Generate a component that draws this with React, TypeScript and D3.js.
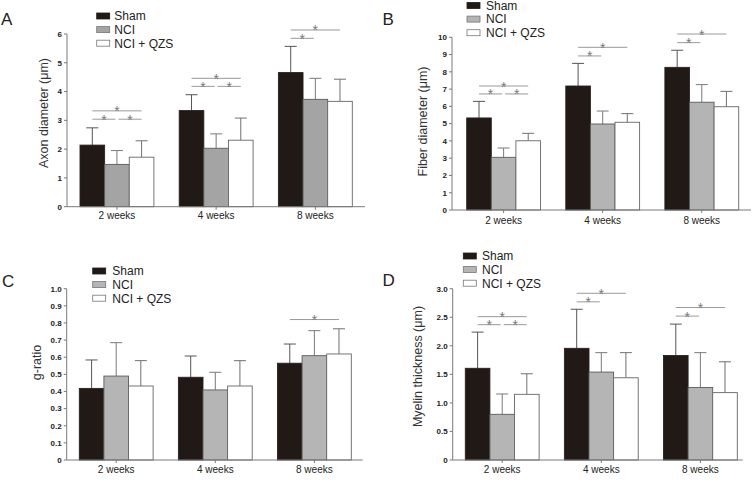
import React from "react";
import * as d3 from "d3";

const groups = ["2 weeks", "4 weeks", "8 weeks"];
const series = ["Sham", "NCI", "NCI + QZS"];

// Panel A: axon diameter
const axonSham = [2.14, 3.34, 4.66];
const axonNCI = [1.47, 2.03, 3.73];
const axonQZS = [1.72, 2.31, 3.66];
const axonShamSD = [0.6, 0.55, 0.91];
const axonNCISD = [0.48, 0.5, 0.73];
const axonQZSSD = [0.57, 0.77, 0.77];
const axonTicks = [0, 1, 2, 3, 4, 5, 6];
// [group, fromSeries, toSeries, level]
const axonSig = [
  [0, 0, 1, 3.04], [0, 1, 2, 3.04], [0, 0, 2, 3.33],
  [1, 0, 1, 4.18], [1, 1, 2, 4.18], [1, 0, 2, 4.46],
  [2, 0, 1, 5.85], [2, 0, 2, 6.14],
];

// Panel B: fiber diameter
const fiberSham = [5.33, 7.18, 8.26];
const fiberNCI = [3.05, 4.98, 6.24];
const fiberQZS = [4.01, 5.08, 5.98];
const fiberShamSD = [0.96, 1.31, 0.99];
const fiberNCISD = [0.54, 0.75, 1.02];
const fiberQZSSD = [0.43, 0.5, 0.89];
const fiberTicks = [0, 1, 2, 3, 4, 5, 6, 7, 8, 9, 10];
const fiberSig = [
  [0, 0, 1, 6.72], [0, 1, 2, 6.72], [0, 0, 2, 7.18],
  [1, 0, 1, 8.92], [1, 0, 2, 9.42],
  [2, 0, 1, 9.69], [2, 0, 2, 10.19],
];

// Panel C: g-ratio
const gSham = [0.418, 0.483, 0.565];
const gNCI = [0.49, 0.409, 0.609];
const gQZS = [0.432, 0.432, 0.619];
const gShamSD = [0.166, 0.124, 0.112];
const gNCISD = [0.195, 0.103, 0.146];
const gQZSSD = [0.148, 0.148, 0.147];
const gTicks = [0, 0.1, 0.2, 0.3, 0.4, 0.5, 0.6, 0.7, 0.8, 0.9, 1.0];
const gSig = [[2, 0, 2, 0.82]];

// Panel D: myelin thickness
const myelinSham = [1.606, 1.956, 1.83];
const myelinNCI = [0.8, 1.54, 1.27];
const myelinQZS = [1.15, 1.44, 1.18];
const myelinShamSD = [0.634, 0.684, 0.55];
const myelinNCISD = [0.356, 0.34, 0.61];
const myelinQZSSD = [0.36, 0.44, 0.54];
const myelinTicks = [0, 0.5, 1.0, 1.5, 2.0, 2.5, 3.0];
const myelinSig = [
  [0, 0, 1, 2.37], [0, 1, 2, 2.37], [0, 0, 2, 2.51],
  [1, 0, 1, 2.77], [1, 0, 2, 2.92],
  [2, 0, 1, 2.52], [2, 0, 2, 2.67],
];

const FONT = "'Liberation Sans', Arial, sans-serif";

type PanelProps = {
  ox: number; oy: number; letter: string; letterX: number; letterY: number;
  yLabel: string; yLabelX: number; yLabelY: number;
  means: number[][]; sds: number[][]; ticks: number[]; fmt: (v: number) => string;
  sig: number[][];
  axisX: number; axisEnd: number; y0: number; yTop: number; yMax: number;
  barsStart: number; barsEnd: number; catY: number;
  legX: number; legY: number; legTextX: number; ncFill: string;
};

function Panel(p: PanelProps) {
  const y = d3.scaleLinear().domain([0, p.yMax]).range([p.y0, p.yTop]);
  const xg = d3.scaleBand<string>().domain(groups).range([p.barsStart, p.barsEnd])
    .paddingInner(0.255).paddingOuter(0);
  const xs = d3.scaleBand<string>().domain(series).range([0, xg.bandwidth()]).padding(0);
  const fills = ["#211915", p.ncFill, "#ffffff"];
  const strokes = ["#2a2220", "#5a5a5a", "#666666"];
  const errCol = ["#555555", "#7a7a7a", "#707070"];
  const bw = xs.bandwidth();
  const center = (g: number, s: number) => (xg(groups[g]) as number) + (xs(series[s]) as number) + bw / 2;
  return (
    <g transform={`translate(${p.ox},${p.oy})`} fontFamily={FONT}>
      <text x={p.letterX} y={p.letterY} fontSize={17} fill="#222">{p.letter}</text>
      {/* legend */}
      {series.map((s, i) => (
        <g key={s}>
          <rect x={p.legX} y={p.legY + i * 13.6 - 3} width={13} height={6}
            fill={fills[i]} stroke={i === 0 ? "#211915" : "#777"} strokeWidth={0.8} />
          <text x={p.legTextX} y={p.legY + i * 13.6 + 4.3} fontSize={12} fill="#222">{s}</text>
        </g>
      ))}
      {/* y label */}
      <text transform={`translate(${p.yLabelX},${p.yLabelY}) rotate(-90)`} textAnchor="middle"
        dominantBaseline="central" fontSize={12.5} fill="#333">{p.yLabel}</text>
      {/* y axis */}
      <line x1={p.axisX} x2={p.axisX} y1={p.y0} y2={p.yTop} stroke="#7a7a7a" strokeWidth={1} />
      {p.ticks.map((t) => (
        <g key={t}>
          <line x1={p.axisX - 3} x2={p.axisX} y1={y(t)} y2={y(t)} stroke="#7a7a7a" strokeWidth={1} />
          <text x={p.axisX - 5} y={y(t)} dy="0.35em" textAnchor="end" fontSize={8}
            fontWeight="bold" fill="#222">{p.fmt(t)}</text>
        </g>
      ))}
      {/* bars */}
      {groups.map((g, gi) => (
        <g key={g}>
          {series.map((s, si) => {
            const v = p.means[si][gi];
            const e = v + p.sds[si][gi];
            const x0 = (xg(g) as number) + (xs(s) as number);
            const cx = x0 + bw / 2;
            return (
              <g key={s}>
                <line x1={cx} x2={cx} y1={y(v)} y2={y(e)} stroke={errCol[si]} strokeWidth={1} />
                <line x1={cx - 6} x2={cx + 6} y1={y(e)} y2={y(e)} stroke={errCol[si]} strokeWidth={1} />
                <rect x={x0} y={y(v)} width={bw} height={p.y0 - y(v)} fill={fills[si]}
                  stroke={strokes[si]} strokeWidth={0.9} />
              </g>
            );
          })}
        </g>
      ))}
      {/* x axis */}
      <line x1={p.axisX} x2={p.axisEnd} y1={p.y0} y2={p.y0} stroke="#7a7a7a" strokeWidth={1} />
      {groups.map((g) => {
        const cx = (xg(g) as number) + xg.bandwidth() / 2;
        return (
          <g key={g}>
            <line x1={cx} x2={cx} y1={p.y0} y2={p.y0 + 3} stroke="#7a7a7a" strokeWidth={1} />
            <text x={cx} y={p.catY} textAnchor="middle" fontSize={10} fill="#222">{g}</text>
          </g>
        );
      })}
      {/* significance */}
      {p.sig.map((b, i) => {
        const [gi, a, c, lvl] = b;
        let x1 = center(gi, a);
        let x2 = center(gi, c);
        if (c - a === 1) {
          if (a === 0) x2 -= 1.5;
          else x1 += 1.5;
        }
        const ly = y(lvl);
        return (
          <g key={i}>
            <line x1={x1} x2={x2} y1={ly} y2={ly} stroke="#9a9a9a" strokeWidth={1} />
            <text x={(x1 + x2) / 2} y={ly + 5.5} textAnchor="middle" fontSize={14} fill="#7a7a7a">*</text>
          </g>
        );
      })}
    </g>
  );
}

const intFmt = (v: number) => d3.format("d")(v);
const decFmt = (v: number) => (v === 0 ? "0" : d3.format(".1f")(v));

export default function App() {
  return (
    <svg width={752} height={483} style={{ position: "absolute", left: 0, top: 0, background: "#fff" }}>
      <rect width={752} height={483} fill="#fff" />
      <Panel ox={0} oy={0} letter="A" letterX={1} letterY={25}
        yLabel="Axon diameter (μm)" yLabelX={43.5} yLabelY={113}
        means={[axonSham, axonNCI, axonQZS]} sds={[axonShamSD, axonNCISD, axonQZSSD]}
        ticks={axonTicks} fmt={intFmt} sig={axonSig}
        axisX={67} axisEnd={365} y0={206.7} yTop={34} yMax={6}
        barsStart={80} barsEnd={352.3} catY={218.5}
        legX={96.7} legY={16} legTextX={114.3} ncFill="#a4a4a4" />
      <Panel ox={376} oy={0} letter="B" letterX={6.5} letterY={25}
        yLabel="Fiber diameter (μm)" yLabelX={46.5} yLabelY={121.5}
        means={[fiberSham, fiberNCI, fiberQZS]} sds={[fiberShamSD, fiberNCISD, fiberQZSSD]}
        ticks={fiberTicks} fmt={intFmt} sig={fiberSig}
        axisX={76} axisEnd={375} y0={210} yTop={37.3} yMax={10}
        barsStart={90.7} barsEnd={362.7} catY={223.5}
        legX={91} legY={5.5} legTextX={110} ncFill="#b4b4b4" />
      <Panel ox={0} oy={240} letter="C" letterX={2} letterY={46.5}
        yLabel="g-ratio" yLabelX={37} yLabelY={122.5}
        means={[gSham, gNCI, gQZS]} sds={[gShamSD, gNCISD, gQZSSD]}
        ticks={gTicks} fmt={decFmt} sig={gSig}
        axisX={66.7} axisEnd={362.7} y0={220} yTop={48.7} yMax={1}
        barsStart={79.3} barsEnd={351.3} catY={233}
        legX={92.7} legY={31} legTextX={112.3} ncFill="#b5b5b5" />
      <Panel ox={376} oy={240} letter="D" letterX={6.5} letterY={45.7}
        yLabel="Myelin thickness (μm)" yLabelX={41.5} yLabelY={126.5}
        means={[myelinSham, myelinNCI, myelinQZS]} sds={[myelinShamSD, myelinNCISD, myelinQZSSD]}
        ticks={myelinTicks} fmt={decFmt} sig={myelinSig}
        axisX={76.7} axisEnd={366.7} y0={220} yTop={48.7} yMax={3}
        barsStart={89.3} barsEnd={361.3} catY={233}
        legX={87.3} legY={16} legTextX={106} ncFill="#b5b5b5" />
    </svg>
  );
}
